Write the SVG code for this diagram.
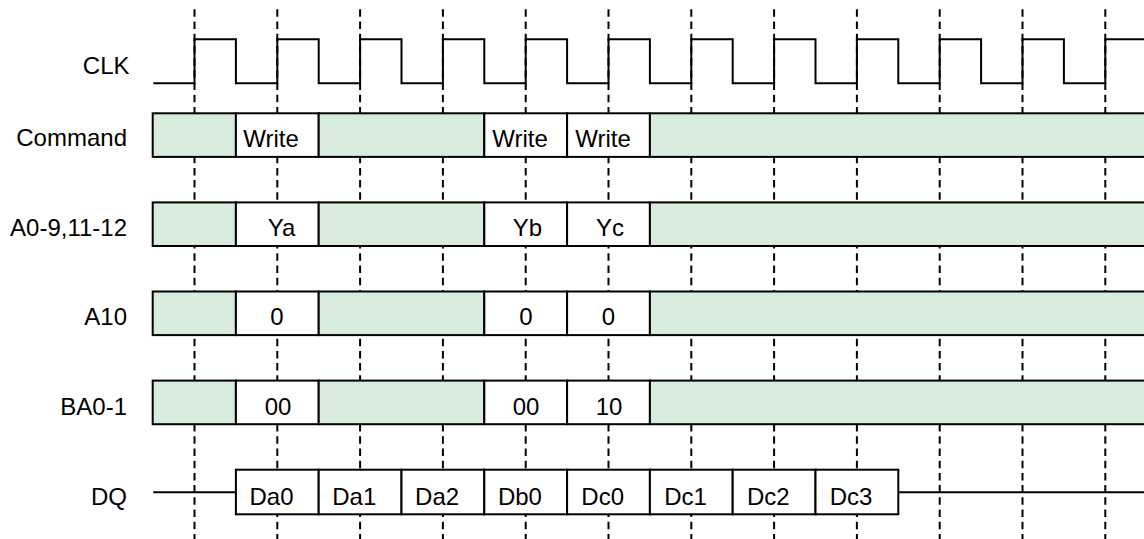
<svg xmlns="http://www.w3.org/2000/svg" width="1144" height="539" viewBox="0 0 1144 539">
<style>
.grid{stroke:#000;stroke-width:2;stroke-dasharray:7.5 4.7;fill:none}
.wave{stroke:#000;stroke-width:2;fill:none}
.g{fill:#d8ecde;stroke:#000;stroke-width:2}
.w{fill:#fff;stroke:#000;stroke-width:2}
text{font-family:"Liberation Sans",Arial,sans-serif;font-size:24px;fill:#000}
.lbl{text-anchor:end}
.c{text-anchor:middle}
</style>
<rect width="1144" height="539" fill="#fff"/>
<g id="gridlines">
<line class="grid" x1="194.5" y1="9.3" x2="194.5" y2="539"/>
<line class="grid" x1="277.3" y1="9.3" x2="277.3" y2="539"/>
<line class="grid" x1="360.1" y1="9.3" x2="360.1" y2="539"/>
<line class="grid" x1="442.9" y1="9.3" x2="442.9" y2="539"/>
<line class="grid" x1="525.7" y1="9.3" x2="525.7" y2="539"/>
<line class="grid" x1="608.5" y1="9.3" x2="608.5" y2="539"/>
<line class="grid" x1="691.3" y1="9.3" x2="691.3" y2="539"/>
<line class="grid" x1="774.1" y1="9.3" x2="774.1" y2="539"/>
<line class="grid" x1="856.9" y1="9.3" x2="856.9" y2="539"/>
<line class="grid" x1="939.7" y1="9.3" x2="939.7" y2="539"/>
<line class="grid" x1="1022.5" y1="9.3" x2="1022.5" y2="539"/>
<line class="grid" x1="1105.3" y1="9.3" x2="1105.3" y2="539"/>
</g>
<g id="clk">
<text class="lbl" x="129.5" y="73.5">CLK</text>
<path class="wave" d="M153.3,83.3 H194.5 V39.3 H235.9 V83.3 H277.3 V39.3 H318.7 V83.3 H360.1 V39.3 H401.5 V83.3 H442.9 V39.3 H484.3 V83.3 H525.7 V39.3 H567.1 V83.3 H608.5 V39.3 H649.9 V83.3 H691.3 V39.3 H732.7 V83.3 H774.1 V39.3 H815.5 V83.3 H856.9 V39.3 H898.3 V83.3 H939.7 V39.3 H981.1 V83.3 H1022.5 V39.3 H1063.9 V83.3 H1105.3 V39.3 H1145"/>
</g>
<g id="command">
<text class="lbl" x="127" y="146">Command</text>
<rect class="g" x="152.7" y="113.3" width="83.2" height="43.6"/>
<rect class="w" x="235.9" y="113.3" width="82.8" height="43.6"/>
<rect class="g" x="318.7" y="113.3" width="165.6" height="43.6"/>
<rect class="w" x="484.3" y="113.3" width="82.8" height="43.6"/>
<rect class="w" x="567.1" y="113.3" width="82.8" height="43.6"/>
<rect class="g" x="649.9" y="113.3" width="500" height="43.6"/>
<text class="c" x="271" y="147">Write</text>
<text class="c" x="520" y="147">Write</text>
<text class="c" x="603" y="147">Write</text>
</g>
<g id="addr">
<text class="lbl" x="127" y="235.5">A0-9,11-12</text>
<rect class="g" x="152.7" y="202.4" width="83.2" height="43.6"/>
<rect class="w" x="235.9" y="202.4" width="82.8" height="43.6"/>
<rect class="g" x="318.7" y="202.4" width="165.6" height="43.6"/>
<rect class="w" x="484.3" y="202.4" width="82.8" height="43.6"/>
<rect class="w" x="567.1" y="202.4" width="82.8" height="43.6"/>
<rect class="g" x="649.9" y="202.4" width="500" height="43.6"/>
<text class="c" x="281.5" y="235.5">Ya</text>
<text class="c" x="527.5" y="235.5">Yb</text>
<text class="c" x="610" y="235.5">Yc</text>
</g>
<g id="a10">
<text class="lbl" x="127" y="325">A10</text>
<rect class="g" x="152.7" y="291.5" width="83.2" height="43.6"/>
<rect class="w" x="235.9" y="291.5" width="82.8" height="43.6"/>
<rect class="g" x="318.7" y="291.5" width="165.6" height="43.6"/>
<rect class="w" x="484.3" y="291.5" width="82.8" height="43.6"/>
<rect class="w" x="567.1" y="291.5" width="82.8" height="43.6"/>
<rect class="g" x="649.9" y="291.5" width="500" height="43.6"/>
<text class="c" x="277" y="325">0</text>
<text class="c" x="526" y="325">0</text>
<text class="c" x="608.5" y="325">0</text>
</g>
<g id="ba">
<text class="lbl" x="127" y="415">BA0-1</text>
<rect class="g" x="152.7" y="380.6" width="83.2" height="43.6"/>
<rect class="w" x="235.9" y="380.6" width="82.8" height="43.6"/>
<rect class="g" x="318.7" y="380.6" width="165.6" height="43.6"/>
<rect class="w" x="484.3" y="380.6" width="82.8" height="43.6"/>
<rect class="w" x="567.1" y="380.6" width="82.8" height="43.6"/>
<rect class="g" x="649.9" y="380.6" width="500" height="43.6"/>
<text class="c" x="278" y="415">00</text>
<text class="c" x="526" y="415">00</text>
<text class="c" x="609" y="415">10</text>
</g>
<g id="dq">
<text class="lbl" x="127" y="504.5">DQ</text>
<line class="wave" x1="153.3" y1="492.2" x2="235.9" y2="492.2"/>
<line class="wave" x1="898.3" y1="492.2" x2="1145" y2="492.2"/>
<rect class="w" x="235.9" y="469.7" width="82.8" height="44.6"/>
<rect class="w" x="318.7" y="469.7" width="82.8" height="44.6"/>
<rect class="w" x="401.5" y="469.7" width="82.8" height="44.6"/>
<rect class="w" x="484.3" y="469.7" width="82.8" height="44.6"/>
<rect class="w" x="567.1" y="469.7" width="82.8" height="44.6"/>
<rect class="w" x="649.9" y="469.7" width="82.8" height="44.6"/>
<rect class="w" x="732.7" y="469.7" width="82.8" height="44.6"/>
<rect class="w" x="815.5" y="469.7" width="82.8" height="44.6"/>
<text class="c" x="271.5" y="504.5">Da0</text>
<text class="c" x="354.3" y="504.5">Da1</text>
<text class="c" x="437.1" y="504.5">Da2</text>
<text class="c" x="519.9" y="504.5">Db0</text>
<text class="c" x="602.7" y="504.5">Dc0</text>
<text class="c" x="685.5" y="504.5">Dc1</text>
<text class="c" x="768.3" y="504.5">Dc2</text>
<text class="c" x="851.1" y="504.5">Dc3</text>
</g>
</svg>
